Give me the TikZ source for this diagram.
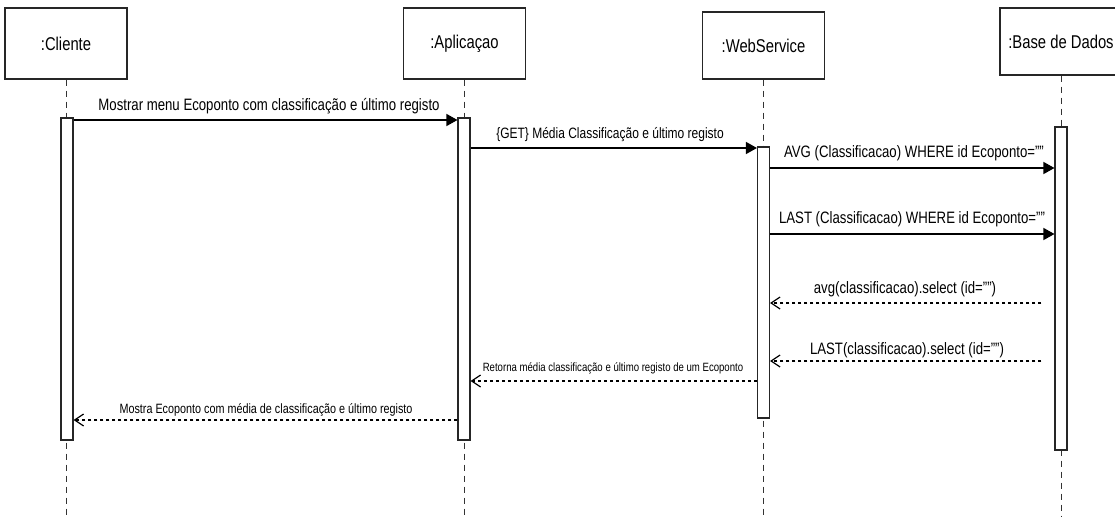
\documentclass[tikz,border=0pt]{standalone}
\usepackage{fontspec}
\setmainfont[FakeStretch=0.8]{Liberation Sans}
\usetikzlibrary{arrows.meta,calc}
% straight double quote
\newcommand{\dq}{\char34\relax}
\begin{document}
\begin{tikzpicture}[x=1pt,y=-1pt,
  obj/.style={draw=black!85, line width=1.2pt, minimum width=122pt, minimum height=71pt,
    inner sep=0pt, font=\fontsize{18.5}{20}\selectfont},
  act/.style={draw=black!85, fill=white, line width=1.1pt, minimum width=12pt, inner sep=0pt},
  life/.style={draw=black!80, line width=0.9pt, dash pattern=on 6pt off 5pt},
  call/.style={line width=1.3pt, -{Triangle[length=11pt,width=12pt]}},
  ret/.style={line width=1.2pt, dash pattern=on 3pt off 3pt,
    -{Straight Barb[length=9pt,width=12pt,line width=1.2pt]}},
  lbl/.style={anchor=base, inner sep=0pt, font=\fontsize{16.5}{18}\selectfont},
  slbl/.style={anchor=base, inner sep=0pt, font=\fontsize{12.5}{14}\selectfont},
]
\clip (0,0) rectangle (1115,517);
\coordinate (bottom) at (0,517);

% participants
\node[obj] (cli) at (66,43.5) {:Cliente};
\node[obj] (app) at (464.5,43.5) {:Aplicaçao};
\node[obj, minimum height=67pt] (ws) at (763.5,45.5) {:WebService};
\node[obj, minimum height=67pt] (db) at (1061,41.5) {:Base de Dados};

% lifelines
\foreach \p in {cli,app,ws,db}
  \draw[life] (\p.south) -- (\p.south |- bottom);

% activation bars
\node[act, minimum height=322pt] (aC) at (67,279) {};
\node[act, minimum height=322pt] (aA) at (464,279) {};
\node[act, minimum height=271pt] (aW) at (763.5,282.5) {};
\node[act, minimum height=323pt] (aD) at (1061,288.5) {};

% message rows
\coordinate (m1) at (0,120);
\coordinate (m2) at (0,148);
\coordinate (m3) at (0,168);
\coordinate (m4) at (0,234);
\coordinate (m5) at (0,303);
\coordinate (m6) at (0,361);
\coordinate (m7) at (0,381);
\coordinate (m8) at (0,420);

% calls
\draw[call] (aC.east |- m1) -- (aA.west |- m1);
\draw[call] (aA.east |- m2) -- (aW.west |- m2);
\draw[call] (aW.east |- m3) -- (aD.west |- m3);
\draw[call] (aW.east |- m4) -- (aD.west |- m4);

% replies
\coordinate (r5) at ($(aD.west |- m5)+(-13,0)$);
\coordinate (r6) at ($(aD.west |- m6)+(-13,0)$);
\draw[ret] (r5) -- (aW.east |- m5);
\draw[ret] (r6) -- (aW.east |- m6);
\draw[ret] (aW.west |- m7) -- (aA.east |- m7);
\draw[ret] (aA.west |- m8) -- (aC.east |- m8);

% message labels
\node[lbl] (t1) at (269,110) {Mostrar menu Ecoponto com classificação e último registo};
\node[lbl, font=\fontsize{15}{17}\selectfont] (t2) at (610,138) {\{GET\} Média Classificação e último registo};
\node[lbl] (t3) at (914,157) {AVG (Classificacao) WHERE id Ecoponto=\dq\dq};
\node[lbl] (t4) at (912,223) {LAST (Classificacao) WHERE id Ecoponto=\dq\dq};
\node[lbl] (t5) at (905,293) {avg(classificacao).select (id=\dq\dq)};
\node[lbl] (t6) at (907,354) {LAST(classificacao).select (id=\dq\dq)};
\node[slbl, font=\fontsize{12}{14}\selectfont] (t7) at (613,371) {Retorna média classificação e último registo de um Ecoponto};
\node[slbl, font=\fontsize{13.5}{15}\selectfont] (t8) at (266,413) {Mostra Ecoponto com média de classificação e último registo};
\end{tikzpicture}
\end{document}
